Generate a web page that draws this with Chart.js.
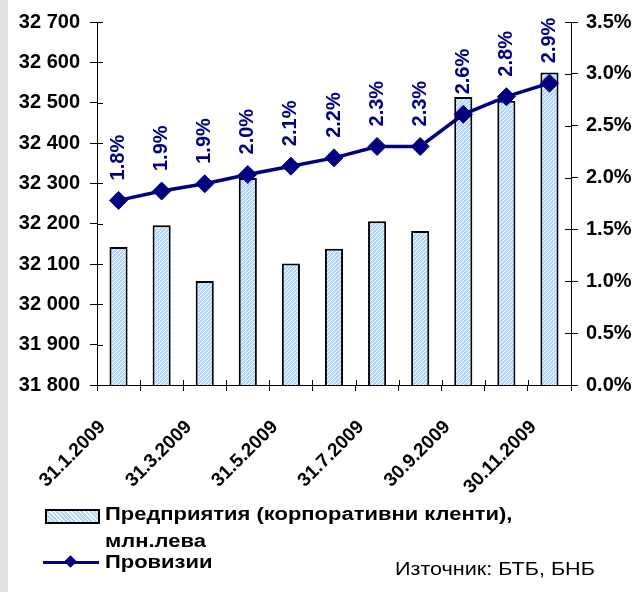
<!DOCTYPE html>
<html>
<head>
<meta charset="utf-8">
<script src="https://cdn.jsdelivr.net/npm/chart.js@4/dist/chart.umd.min.js"></script>
<style>
  html, body { margin: 0; padding: 0; background: #ffffff; }
  body { width: 636px; height: 592px; position: relative; overflow: hidden; font-family: "Liberation Sans", Arial, sans-serif; }
  #strip { position: absolute; left: 0; top: 0; width: 8px; height: 592px; background: #e1e1e1; }
  #wrap { position: absolute; left: 0; top: 0; width: 636px; height: 592px; }
  .lg { position: absolute; font-size: 18px; line-height: 18px; font-weight: bold; color: #000; white-space: nowrap;
        transform: scaleX(1.22); transform-origin: 0 50%; }
  #box { position: absolute; left: 45px; top: 509px; width: 51px; height: 11px; border: 2px solid #000;
         background: repeating-linear-gradient(45deg, #ffffff 0px, #ffffff 1px, #b4d6f6 1px, #b4d6f6 3px); }
  #lline { position: absolute; left: 43px; top: 561px; width: 56px; height: 3px; background: #000080; }
  #ldia { position: absolute; left: 66px; top: 557px; width: 9px; height: 9px; background: #000080; transform: rotate(45deg); }
  #src { position: absolute; left: 395px; top: 560px; font-size: 18px; line-height: 18px; color: #000; white-space: nowrap;
         transform: scaleX(1.2); transform-origin: 0 50%; }
</style>
</head>
<body>
<div id="strip"></div>
<div id="wrap"><canvas id="c"></canvas></div>
<div id="box"></div>
<div class="lg" style="left:105px;top:505px;">Предприятия (корпоративни кленти),</div>
<div class="lg" style="left:105px;top:532px;">млн.лева</div>
<div id="lline"></div><div id="ldia"></div>
<div class="lg" style="left:105px;top:553px;">Провизии</div>
<div id="src">Източник: БТБ, БНБ</div>
<script>
// ---- data ----
const categories = ['31.1.2009','28.2.2009','31.3.2009','30.4.2009','31.5.2009','30.6.2009',
                    '31.7.2009','31.8.2009','30.9.2009','31.10.2009','30.11.2009'];
const corporateLoans = [32142, 32196, 32058, 32313, 32101, 32138, 32206, 32182, 32514, 32505, 32575];
const provisions = [1.78, 1.87, 1.94, 2.03, 2.11, 2.19, 2.30, 2.30, 2.61, 2.78, 2.91];
const leftTicks = { min: 31800, max: 32700, step: 100 };
const rightTicks = { min: 0, max: 3.5, step: 0.5 };

const FONT = '"Liberation Sans", Arial, sans-serif';
const NAVY = '#000080';

// hatch pattern for bars
function makePattern() {
  const p = document.createElement('canvas');
  p.width = 4; p.height = 4;
  const g = p.getContext('2d');
  g.fillStyle = '#b4d6f6';
  g.fillRect(0, 0, 4, 4);
  g.fillStyle = '#ffffff';
  for (let i = 0; i < 4; i++) { g.fillRect(i, 3 - i, 1, 1); }
  const ctx = document.getElementById('c').getContext('2d');
  return ctx.createPattern(p, 'repeat');
}

const crossTicks = {
  id: 'crossTicks',
  afterDraw(chart) {
    const ctx = chart.ctx;
    const y = chart.scales.y, y1 = chart.scales.y1, x = chart.scales.x;
    ctx.save();
    ctx.strokeStyle = '#000';
    ctx.lineWidth = 1;
    ctx.beginPath();
    y.ticks.forEach((t, i) => {
      const py = Math.round(y.getPixelForTick(i)) + 0.5;
      ctx.moveTo(y.right, py); ctx.lineTo(y.right + 6, py);
    });
    y1.ticks.forEach((t, i) => {
      const py = Math.round(y1.getPixelForTick(i)) + 0.5;
      ctx.moveTo(y1.left, py); ctx.lineTo(y1.left - 6, py);
    });
    for (let i = 1; i < categories.length; i++) {
      const px = Math.round((x.getPixelForValue(i - 1) + x.getPixelForValue(i)) / 2) + 0.5;
      ctx.moveTo(px, x.top); ctx.lineTo(px, x.top - 5);
    }
    ctx.stroke();
    ctx.restore();
  }
};

const valueLabels = {
  id: 'valueLabels',
  afterDatasetsDraw(chart) {
    const ctx = chart.ctx;
    const meta = chart.getDatasetMeta(1);
    ctx.save();
    ctx.font = 'bold 20px ' + FONT;
    ctx.fillStyle = NAVY;
    meta.data.forEach((pt, i) => {
      ctx.save();
      ctx.translate(pt.x, pt.y - 20);
      ctx.rotate(-Math.PI / 2);
      ctx.textAlign = 'left';
      ctx.textBaseline = 'middle';
      ctx.fillText(provisions[i].toFixed(1) + '%', 0, 0);
      ctx.restore();
    });
    ctx.restore();
  }
};

new Chart(document.getElementById('c'), {
  data: {
    labels: categories,
    datasets: [
      {
        type: 'bar',
        label: 'Предприятия (корпоративни кленти), млн.лева',
        data: corporateLoans,
        yAxisID: 'y',
        backgroundColor: makePattern(),
        borderColor: '#000',
        borderWidth: 2,
        borderSkipped: false,
        barPercentage: 0.42,
        categoryPercentage: 1,
        order: 1
      },
      {
        type: 'line',
        label: 'Провизии',
        data: provisions,
        yAxisID: 'y1',
        borderColor: NAVY,
        borderWidth: 3.5,
        backgroundColor: NAVY,
        pointStyle: 'rectRot',
        pointRadius: 9,
        pointBorderWidth: 1,
        pointBackgroundColor: NAVY,
        pointBorderColor: NAVY,
        tension: 0,
        order: 0
      }
    ]
  },
  options: {
    responsive: true,
    maintainAspectRatio: false,
    animation: false,
    events: [],
    layout: { padding: { top: 17, left: 0, right: 0, bottom: 0 } },
    plugins: { legend: { display: false }, tooltip: { enabled: false } },
    scales: {
      x: {
        offset: true,
        grid: { display: true, drawOnChartArea: false, offset: true, color: '#000', tickLength: 6, tickWidth: 1 },
        border: { display: true, color: '#000', width: 1 },
        ticks: {
          autoSkip: false, maxRotation: 45, minRotation: 45, color: '#000',
          font: { family: FONT, size: 19, weight: 'bold' },
          labelOffset: -16, padding: 25,
          callback: (v, i) => (i % 2 === 0 ? categories[i] : '')
        },
        afterFit: s => { s.height = 207; }
      },
      y: {
        position: 'left',
        min: leftTicks.min, max: leftTicks.max,
        grid: { display: true, drawOnChartArea: false, color: '#000', tickLength: 7 },
        border: { display: true, color: '#000', width: 1 },
        ticks: {
          stepSize: leftTicks.step, color: '#000', padding: 10,
          font: { family: FONT, size: 20, weight: 'bold' },
          callback: v => { const s = String(v); return s.slice(0, 2) + ' ' + s.slice(2); }
        },
        afterFit: s => { s.width = 97; }
      },
      y1: {
        position: 'right',
        min: rightTicks.min, max: rightTicks.max,
        grid: { display: true, drawOnChartArea: false, color: '#000', tickLength: 7 },
        border: { display: true, color: '#000', width: 1 },
        ticks: {
          stepSize: rightTicks.step, color: '#000', padding: 8,
          font: { family: FONT, size: 20, weight: 'bold' },
          callback: v => v.toFixed(1) + '%'
        },
        afterFit: s => { s.width = 65; }
      }
    }
  },
  plugins: [crossTicks, valueLabels]
});
</script>
</body>
</html>
